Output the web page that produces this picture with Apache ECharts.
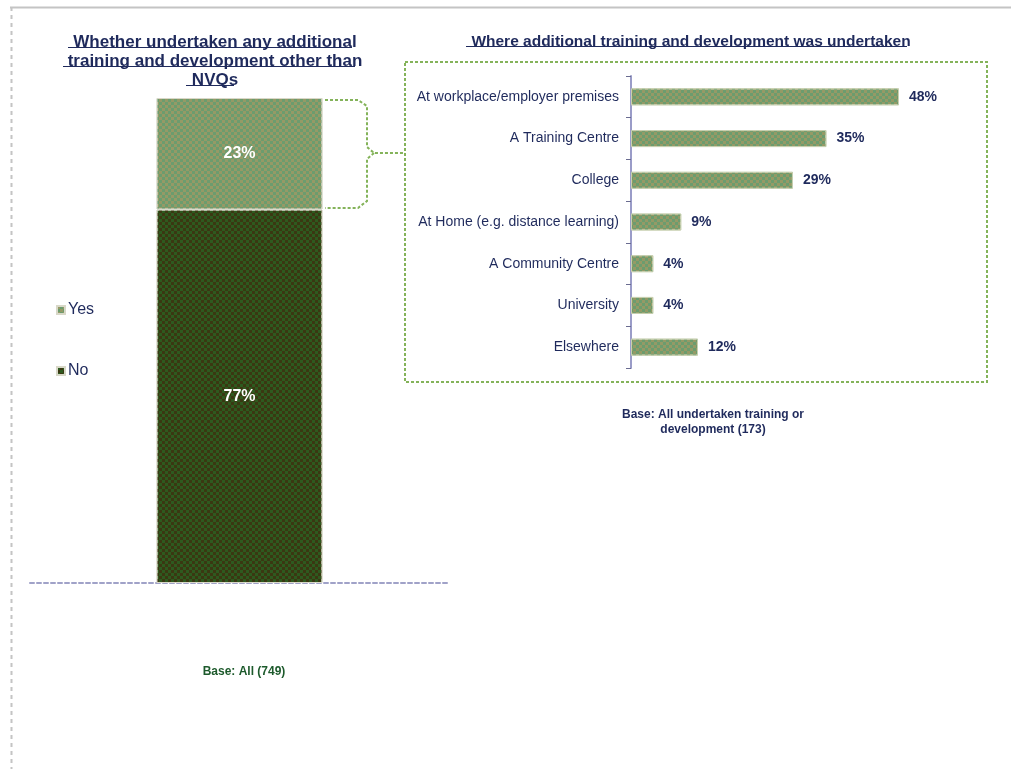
<!DOCTYPE html>
<html>
<head>
<meta charset="utf-8">
<style>
  html, body { margin: 0; padding: 0; background: #ffffff; }
  #chart { width: 1011px; height: 769px; }
</style>
<script src="https://cdn.jsdelivr.net/npm/echarts@6/dist/echarts.min.js"></script>
</head>
<body>
<div id="chart"></div>
<script>
// Share of respondents who took extra training (stacked column)
const overallCategory = ['All'];
const yesShare = [23];
const noShare = [77];

// Where the extra training took place (horizontal bars)
const locations = [
  'At workplace/employer premises',
  'A Training Centre',
  'College',
  'At Home (e.g. distance learning)',
  'A Community Centre',
  'University',
  'Elsewhere'
];
const locationShare = [48, 35, 29, 9, 4, 4, 12];

const leftTitle = 'Whether undertaken any additional\ntraining and development other than\nNVQs';
const rightTitle = 'Where additional training and development was undertaken';
const leftBase = 'Base: All (749)';
const rightBase = 'Base: All undertaken training or\ndevelopment (173)';

const NAVY = '#1f2a5c';
const FONT = '"Liberation Sans", Arial, sans-serif';

// Checkered fills
const lightFill = {
  color: '#959a66',
  decal: { symbol: 'rect', symbolSize: 1, color: '#6c9c6e',
           dashArrayX: [[3, 3], [0, 3, 3, 0]], dashArrayY: [3, 0], rotation: 0 }
};
const darkFill = {
  color: '#2e5a1f',
  decal: { symbol: 'rect', symbolSize: 1, color: '#3a3812',
           dashArrayX: [[3, 3], [0, 3, 3, 0]], dashArrayY: [3, 0], rotation: 0 }
};

const chart = echarts.init(document.getElementById('chart'));

chart.setOption({
  animation: false,
  textStyle: { fontFamily: FONT },
  title: [
    { text: leftTitle, left: 210, top: 28, textAlign: 'center',
      textStyle: { fontSize: 17, fontWeight: 'bold', color: NAVY, lineHeight: 19, fontFamily: FONT } },
    { text: rightTitle, left: 686, top: 29, textAlign: 'center',
      textStyle: { fontSize: 15.5, fontWeight: 'bold', color: NAVY, fontFamily: FONT } },
    { text: rightBase, left: 708, top: 402, textAlign: 'center',
      textStyle: { fontSize: 12, fontWeight: 'bold', color: NAVY, lineHeight: 15, fontFamily: FONT } },
    { text: leftBase, left: 239, top: 661, textAlign: 'center',
      textStyle: { fontSize: 12, fontWeight: 'bold', color: '#1d5a2c', fontFamily: FONT } }
  ],
  legend: {
    data: ['Yes', 'No'],
    orient: 'vertical',
    left: 51, top: 297,
    icon: 'rect', itemWidth: 8, itemHeight: 8, itemGap: 45,
    textStyle: { fontSize: 16, color: NAVY, fontFamily: FONT, padding: [0, 0, 0, -2] }
  },
  grid: [
    { left: 30, right: 562, top: 98, bottom: 186 },
    { left: 631, right: 45, top: 76, bottom: 401 }
  ],
  xAxis: [
    { gridIndex: 0, type: 'category', data: overallCategory,
      axisLine: { lineStyle: { color: '#a0a2c8', width: 2, type: [4, 3] } },
      axisTick: { show: false }, axisLabel: { show: false } },
    { gridIndex: 1, type: 'value', min: 0, max: 60, show: false }
  ],
  yAxis: [
    { gridIndex: 0, type: 'value', min: 0, max: 100, show: false },
    { gridIndex: 1, type: 'category', data: locations, inverse: true,
      axisLine: { lineStyle: { color: '#9a9cc8', width: 2 } },
      axisTick: { show: true, length: 5, lineStyle: { color: '#6a6c90' } },
      axisLabel: { fontSize: 14, color: NAVY, margin: 12, fontFamily: FONT } }
  ],
  series: [
    { name: 'No', type: 'bar', stack: 'all', xAxisIndex: 0, yAxisIndex: 0,
      data: noShare, barWidth: 166,
      itemStyle: Object.assign({ borderColor: '#d8d8c8', borderWidth: 1 }, darkFill),
      label: { show: true, position: 'inside', formatter: '{c}%', color: '#ffffff',
               fontWeight: 'bold', fontSize: 16, fontFamily: FONT } },
    { name: 'Yes', type: 'bar', stack: 'all', xAxisIndex: 0, yAxisIndex: 0,
      data: yesShare, barWidth: 166,
      itemStyle: Object.assign({ borderColor: '#d8d8c8', borderWidth: 1 }, lightFill),
      label: { show: true, position: 'inside', formatter: '{c}%', color: '#ffffff',
               fontWeight: 'bold', fontSize: 16, fontFamily: FONT } },
    { name: 'Location', type: 'bar', xAxisIndex: 1, yAxisIndex: 1,
      data: locationShare, barWidth: 17,
      itemStyle: Object.assign({ borderColor: '#c8d0b0', borderWidth: 1 }, lightFill),
      label: { show: true, position: 'right', distance: 10, formatter: '{c}%', color: NAVY,
               fontWeight: 'bold', fontSize: 14, fontFamily: FONT } }
  ],
  graphic: [
    // outer frame of the slide
    { type: 'line', shape: { x1: 10, y1: 7.5, x2: 1011, y2: 7.5 },
      style: { stroke: '#c4c4c4', lineWidth: 2 }, silent: true },
    { type: 'line', shape: { x1: 11.5, y1: 7, x2: 11.5, y2: 769 },
      style: { stroke: '#c4c4c4', lineWidth: 2, lineDash: [4, 4] }, silent: true },
    // title underlines
    { type: 'line', shape: { x1: 68, y1: 47.5, x2: 352, y2: 47.5 }, style: { stroke: NAVY, lineWidth: 1 } },
    { type: 'line', shape: { x1: 63, y1: 66.5, x2: 355, y2: 66.5 }, style: { stroke: NAVY, lineWidth: 1 } },
    { type: 'line', shape: { x1: 186, y1: 85.5, x2: 234, y2: 85.5 }, style: { stroke: NAVY, lineWidth: 1 } },
    { type: 'line', shape: { x1: 466, y1: 46.5, x2: 907, y2: 46.5 }, style: { stroke: NAVY, lineWidth: 1 } },
    // callout box around the location chart
    { type: 'rect', shape: { x: 405, y: 62, width: 582, height: 320 },
      style: { fill: 'none', stroke: '#84b35a', lineWidth: 2, lineDash: [3, 2] }, silent: true },
    // brace linking the "Yes" segment to the callout
    { type: 'polyline', shape: { points: [[325, 100], [358, 100], [367, 106], [367, 147], [374, 153], [405, 153]] },
      style: { fill: 'none', stroke: '#84b35a', lineWidth: 2, lineDash: [3, 2] }, silent: true },
    { type: 'polyline', shape: { points: [[374, 153], [367, 159], [367, 201], [358, 208], [325, 208]] },
      style: { fill: 'none', stroke: '#84b35a', lineWidth: 2, lineDash: [3, 2] }, silent: true }
  ]
});
</script>
</body>
</html>
